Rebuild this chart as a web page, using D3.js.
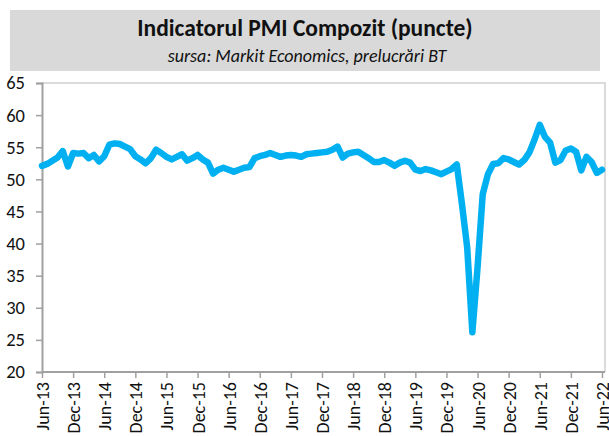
<!DOCTYPE html>
<html>
<head>
<meta charset="utf-8">
<script src="https://cdn.jsdelivr.net/npm/d3@7"></script>
<style>
  html, body { margin: 0; padding: 0; background: #fff; }
  svg { display: block; }
  text { font-family: Carlito, Calibri, Lato, "Open Sans", sans-serif; }
</style>
</head>
<body>
<svg id="chart" width="609" height="436"></svg>
<script>
// ---- data ----
const title = "Indicatorul PMI Compozit (puncte)";
const subtitle = "sursa: Markit Economics, prelucrări BT";

// monthly values, first point at the Jun-13 tick, last at the Jun-22 tick
const pmiValues = [
  52.1, 52.4, 52.9, 53.4, 54.4, 52.0, 54.1, 54.0, 54.1, 53.3,
  53.8, 52.8, 53.6, 55.4, 55.6, 55.5, 55.1, 54.7, 53.6, 53.1,
  52.5, 53.3, 54.6, 54.1, 53.5, 53.1, 53.5, 53.9, 52.9, 53.3,
  53.8, 53.1, 52.6, 50.9, 51.5, 51.8, 51.5, 51.2, 51.5, 51.8,
  51.9, 53.3, 53.6, 53.8, 54.1, 53.8, 53.5, 53.7, 53.8, 53.7,
  53.5, 53.9, 54.0, 54.1, 54.2, 54.3, 54.6, 55.1, 53.4, 54.0,
  54.2, 54.3, 53.8, 53.3, 52.7, 52.7, 53.0, 52.6, 52.1, 52.6,
  52.9, 52.6, 51.5, 51.3, 51.6, 51.4, 51.1, 50.8, 51.2, 51.6,
  52.3, 46.1, 39.4, 26.2, 36.3, 47.7, 50.8, 52.4, 52.5, 53.3,
  53.1, 52.7, 52.3, 53.0, 54.2, 56.2, 58.5, 56.6, 55.7, 52.6,
  53.0, 54.5, 54.8, 54.3, 51.4, 53.5, 52.7, 51.0, 51.5
];

const xTickLabels = [
  "Jun-13", "Dec-13", "Jun-14", "Dec-14", "Jun-15", "Dec-15", "Jun-16",
  "Dec-16", "Jun-17", "Dec-17", "Jun-18", "Dec-18", "Jun-19", "Dec-19",
  "Jun-20", "Dec-20", "Jun-21", "Dec-21", "Jun-22"
];
const xTickStep = 6; // months between labelled ticks
const yTicks = [20, 25, 30, 35, 40, 45, 50, 55, 60, 65];

// ---- layout ----
const svg = d3.select("#chart");
const pLeft = 42, pRight = 602, plotRight = 605, pTop = 83, pBottom = 372;

const x = d3.scaleLinear().domain([0, pmiValues.length - 1]).range([pLeft, pRight]);
const y = d3.scaleLinear().domain([20, 65]).range([pBottom, pTop]);

// title box
svg.append("rect")
  .attr("x", 10).attr("y", 10).attr("width", 590).attr("height", 61)
  .attr("fill", "#D9D9D9");
svg.append("text")
  .attr("x", 305).attr("y", 36)
  .attr("text-anchor", "middle")
  .attr("font-size", 23.5).attr("font-weight", "bold").attr("fill", "#111")
  .text(title);
svg.append("text")
  .attr("x", 307).attr("y", 62)
  .attr("text-anchor", "middle")
  .attr("font-size", 18).attr("font-style", "italic").attr("fill", "#111")
  .text(subtitle);

// plot border (top and right)
svg.append("path")
  .attr("d", `M${pLeft},${pTop}H${plotRight}V${pBottom}`)
  .attr("fill", "none").attr("stroke", "#D0D0D0").attr("stroke-width", 1.5);

// y axis
const yAxis = d3.axisLeft(y).tickValues(yTicks).tickSize(6).tickPadding(11);
const gy = svg.append("g").attr("transform", `translate(${pLeft},0)`).call(yAxis);
gy.select(".domain").attr("stroke", "#A0A0A0").attr("stroke-width", 2);
gy.selectAll(".tick line").attr("stroke", "#A0A0A0").attr("stroke-width", 1.5);
gy.selectAll(".tick text").attr("font-size", 18.5).attr("fill", "#111")
  .attr("font-family", "Carlito, Calibri, Lato, sans-serif")
  .attr("x", -17);

// x axis
const xTickIdx = xTickLabels.map((_, i) => i * xTickStep);
const xAxis = d3.axisBottom(x).tickValues(xTickIdx).tickSize(6)
  .tickFormat((d, i) => xTickLabels[i]);
const gx = svg.append("g").attr("transform", `translate(0,${pBottom})`).call(xAxis);
gx.select(".domain").attr("stroke", "#A0A0A0").attr("stroke-width", 2)
  .attr("d", `M${pLeft},0H${plotRight}`);
gx.selectAll(".tick line").attr("stroke", "#A0A0A0").attr("stroke-width", 1.5);
gx.selectAll(".tick text")
  .attr("font-size", 18).attr("fill", "#111")
  .attr("font-family", "Carlito, Calibri, Lato, sans-serif")
  .attr("text-anchor", "end")
  .attr("transform", "rotate(-90)")
  .attr("x", -10).attr("y", 0).attr("dy", "0.36em");

// line
const line = d3.line().x((d, i) => x(i)).y(d => y(d));
svg.append("path")
  .datum(pmiValues)
  .attr("d", line)
  .attr("fill", "none")
  .attr("stroke", "#00B0F0")
  .attr("stroke-width", 6.5)
  .attr("stroke-linejoin", "round")
  .attr("stroke-linecap", "round");
</script>
</body>
</html>
